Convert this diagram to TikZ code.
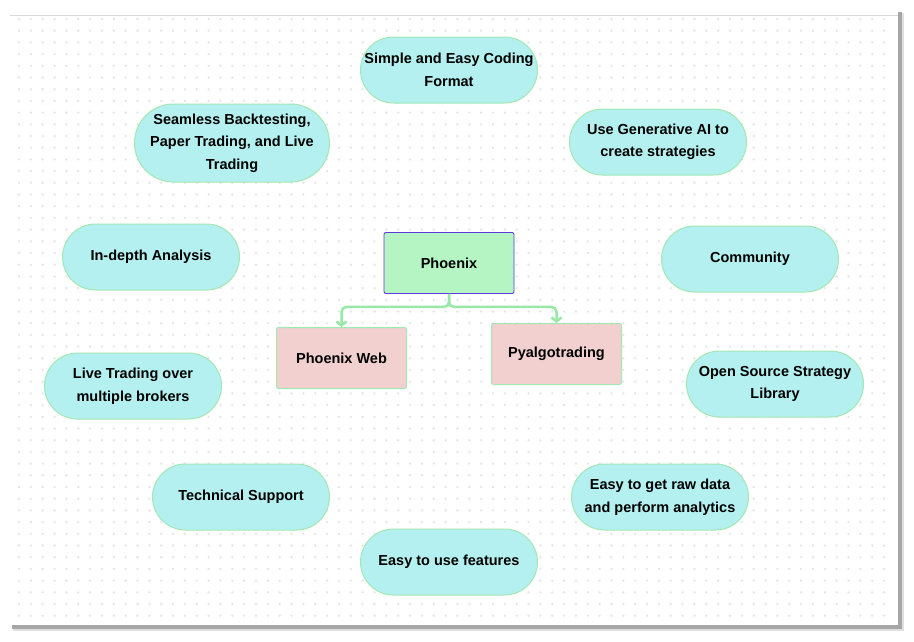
\documentclass[tikz,border=0pt]{standalone}
\usepackage{fontspec}
\setmainfont{Liberation Sans}
\usepackage{xcolor}
\usetikzlibrary{positioning,arrows.meta}
\definecolor{pillfill}{HTML}{B4F0F0}
\definecolor{pilledge}{HTML}{A2E8B2}
\definecolor{hubfill}{HTML}{B4F5C3}
\definecolor{hubedge}{HTML}{5A3CDC}
\definecolor{leaffill}{HTML}{F2D0D0}
\definecolor{linkgreen}{HTML}{98E8A8}
\definecolor{dotgray}{HTML}{E4E4EC}

\begin{document}
\begin{tikzpicture}[
    x=1pt, y=-1pt,
    grow=down,
    level 1/.style={sibling distance=215pt,level distance=93pt},
    edge from parent/.style={-{Straight Barb[length=4pt,width=10pt]}, draw=linkgreen, line width=2.5pt, rounded corners=5pt},
    edge from parent path={(\tikzparentnode.south) -- ++(0,13) -| (\tikzchildnode.north)},
    txt/.style={font=\bfseries\fontsize{14.5}{22.5}\selectfont, align=center, inner sep=0pt},
    pill/.style={txt, rectangle, rounded corners=33pt, fill=pillfill, draw=pilledge, line width=1pt,
    minimum width=177pt, minimum height=66pt},
    hub/.style={txt, rectangle, rounded corners=2pt, fill=hubfill, draw=hubedge, line width=0.9pt,
    minimum width=130pt, minimum height=61pt},
    leaf/.style={txt, rectangle, rounded corners=2pt, fill=leaffill, draw=pilledge, line width=1pt,
    minimum width=130pt, minimum height=61pt}
    ]
\useasboundingbox (0,0) rectangle (914,641);

% sheet with shadow and dot grid
\fill[black!12] (13,13) rectangle (904,631);
\fill[black!35] (12,12) rectangle (902,629);
\fill[white] (10,10) rectangle (898,625);
\draw[black!15, line width=1pt] (10,15) -- (898,15);
\foreach \x in {19,30.85,...,895}
    \foreach \y in {19,30.7,...,622}
        \fill[dotgray] (\x,\y) circle (1.3);

% features round the hub
\node[pill] (coding) at (449,70) {Simple and Easy Coding\\Format};
\node[pill, minimum width=195pt, minimum height=78pt, rounded corners=39pt] (backtest) at (232,143)
    {Seamless Backtesting,\\Paper Trading, and Live\\Trading};
\node[pill] (genai) at (658,142) {Use Generative AI to\\create strategies};
\node[pill] (analysis) at (151,257) {In-depth Analysis};
\node[pill] (community) at (750,259) {Community};
\node[pill] (brokers) at (133,386) {Live Trading over\\multiple brokers};
\node[pill] (library) at (775,384) {Open Source Strategy\\Library};
\node[pill] (support) at (241,497) {Technical Support};
\node[pill] (rawdata) at (660,497) {Easy to get raw data\\and perform analytics};
\node[pill] (features) at (449,562) {Easy to use features};

\node[hub] (phoenix) at (449,263) {Phoenix}
    %left branch
    child {
        node[leaf, yshift=-2pt] (web) {Phoenix Web}
    }
    %right branch
    child {
        node[leaf, yshift=2pt] (algo) {Pyalgotrading}
    };
\end{tikzpicture}
\end{document}
